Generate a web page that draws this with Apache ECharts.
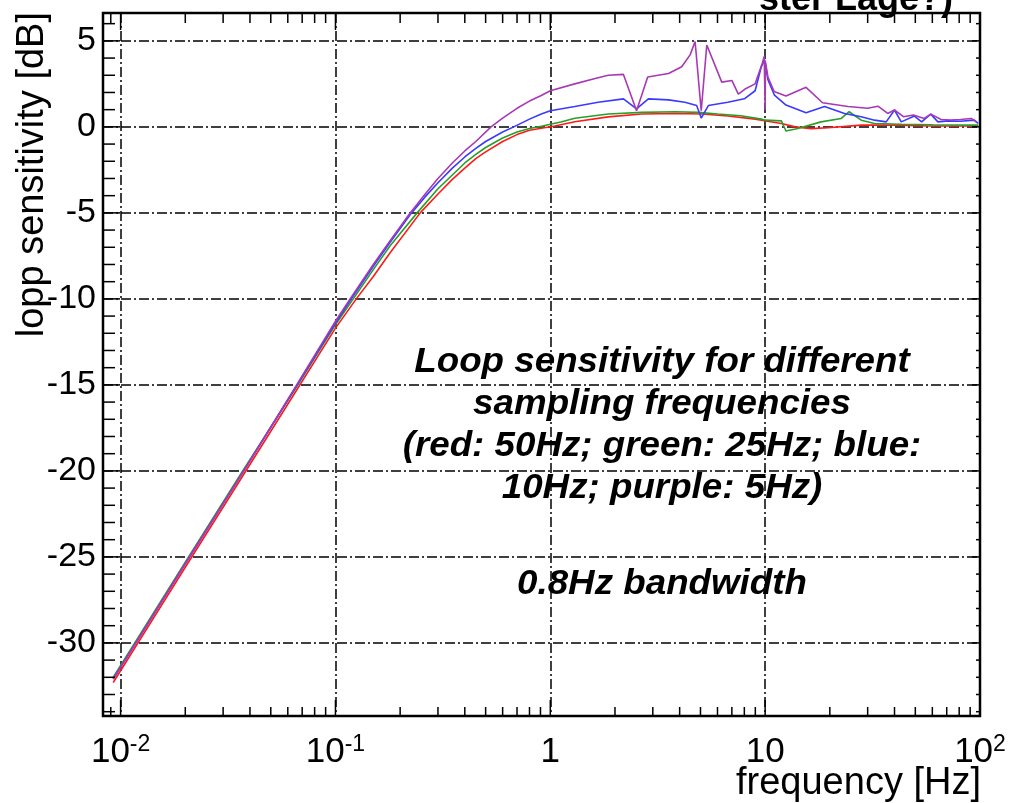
<!DOCTYPE html>
<html><head><meta charset="utf-8">
<script src="https://cdn.jsdelivr.net/npm/echarts@6/dist/echarts.min.js"></script>
<style>html,body{margin:0;padding:0;background:#fff}#c{width:1017px;height:803px}</style>
</head><body><div id="c"></div>
<script>
// ---- data (frequency [Hz], loop sensitivity [dB]) ----
const redData = [[0.00924,-32.3],[0.0115,-30.4],[0.02,-25.6],[0.037,-20.3],[0.066,-15.3],[0.1,-11.7],[0.125,-10.0],[0.15,-8.7],[0.18,-7.3],[0.248,-5.0],[0.3,-3.9],[0.35,-3.05],[0.4,-2.4],[0.45,-1.85],[0.5,-1.45],[0.6,-0.85],[0.7,-0.45],[0.8,-0.2],[0.908,-0.08],[1.05,0.05],[1.3,0.3],[1.86,0.58],[2.66,0.75],[3.8,0.78],[5.1,0.75],[6.7,0.63],[9,0.45],[10.6,0.3],[11.9,0.2],[13.8,0.0],[16.4,-0.1],[19.6,-0.05],[28,0.1],[40,0.1],[59,0.05],[98,0.05]];
const greenData = [[0.00924,-32.0],[0.0115,-30.1],[0.02,-25.3],[0.037,-20.0],[0.066,-15.1],[0.1,-11.5],[0.15,-8.3],[0.18,-6.9],[0.24,-5.0],[0.3,-3.6],[0.35,-2.8],[0.4,-2.1],[0.45,-1.6],[0.5,-1.2],[0.6,-0.65],[0.7,-0.3],[0.8,-0.1],[0.92,0.05],[1.0,0.15],[1.12,0.28],[1.3,0.5],[1.86,0.75],[2.66,0.84],[3.8,0.88],[4.9,0.84],[6.0,0.75],[7.7,0.65],[9.6,0.45],[10,0.39],[11.9,0.35],[12.5,-0.24],[14.2,-0.1],[18.2,0.29],[22.6,0.49],[24.6,0.88],[28,0.39],[32.3,0.2],[43,0.15],[60,0.12],[98,0.1]];
const blueData = [[0.00924,-32.1],[0.0115,-30.2],[0.02,-25.4],[0.037,-20.1],[0.066,-15.05],[0.1,-11.4],[0.117,-10.1],[0.15,-8.1],[0.18,-6.7],[0.226,-5.0],[0.26,-4.1],[0.3,-3.25],[0.35,-2.4],[0.4,-1.75],[0.45,-1.25],[0.5,-0.85],[0.6,-0.3],[0.676,0.0],[0.8,0.45],[0.908,0.75],[1.0,0.94],[1.3,1.18],[1.67,1.43],[2.19,1.63],[2.52,1.04],[2.86,1.63],[3.55,1.57],[4.23,1.43],[4.8,1.24],[5.04,0.51],[5.44,1.24],[6.7,1.43],[8.0,1.63],[8.98,2.1],[9.6,3.5],[9.95,3.9],[10.3,2.74],[11.05,1.84],[12.5,1.27],[15.5,0.82],[18.9,1.18],[23.4,0.78],[28,0.59],[32.3,0.39],[36.6,0.29],[40,0.98],[43,0.29],[49.5,0.63],[53.5,0.29],[59,0.74],[63.7,0.29],[70.8,0.35],[81,0.33],[94,0.39],[98,0.2]];
const purpleData = [[0.00924,-32.1],[0.0115,-30.2],[0.02,-25.4],[0.037,-20.1],[0.066,-15.0],[0.1,-11.3],[0.117,-10.0],[0.15,-8.0],[0.18,-6.6],[0.22,-5.1],[0.26,-3.95],[0.3,-3.0],[0.35,-2.1],[0.4,-1.4],[0.45,-0.85],[0.53,0.0],[0.6,0.51],[0.7,1.08],[0.8,1.5],[0.908,1.82],[1.0,2.1],[1.3,2.5],[1.6,2.8],[1.86,3.0],[2.19,3.05],[2.52,0.94],[2.84,2.9],[3.55,3.1],[4.09,3.5],[4.48,4.2],[4.72,4.96],[5.04,0.94],[5.35,4.76],[6.28,2.6],[7.0,2.7],[7.5,1.9],[8.06,2.2],[8.98,2.5],[9.7,3.7],[9.9,4.1],[9.97,4.2],[10.0,1.0],[10.03,3.8],[10.3,2.9],[11.0,2.06],[12.5,1.8],[15.5,2.3],[18.5,1.4],[24.3,1.18],[30,1.08],[33.5,1.2],[37.2,0.78],[40,0.98],[44,0.59],[49,0.69],[55,0.49],[59,0.74],[66,0.43],[73,0.4],[81,0.43],[91,0.49],[96,0.3]];

// ---- axes ----
const X_MIN = 0.00828, X_MAX = 100;
const Y_MIN = -34.25, Y_MAX = 6.62;
const xLabelPos = [0.01, 0.1, 1, 10, 100];
const xLabelBase = ['10', '10', '1', '10', '10'];
const xLabelExp = ['-2', '-1', '', '', '2'];
const xMajorTicks = [0.01, 0.1, 1, 10, 100];
const xMinorTicks = [0.009, 0.02, 0.03, 0.04, 0.05, 0.06, 0.07, 0.08, 0.09, 0.2, 0.3, 0.4, 0.5, 0.6, 0.7, 0.8, 0.9, 2, 3, 4, 5, 6, 7, 8, 9, 20, 30, 40, 50, 60, 70, 80, 90];
const yMajorTicks = [-30, -25, -20, -15, -10, -5, 0, 5];
const yMinorTicks = [-34, -33, -32, -31, -29, -28, -27, -26, -24, -23, -22, -21, -19, -18, -17, -16, -14, -13, -12, -11, -9, -8, -7, -6, -4, -3, -2, -1, 1, 2, 3, 4, 6];
const annotationLines = ['Loop sensitivity for different', 'sampling frequencies', '(red: 50Hz; green: 25Hz; blue:', '10Hz; purple: 5Hz)', '0.8Hz bandwidth'];
const annotationY = [362, 404, 446, 488, 584];

const FONT = 'Liberation Sans, Arial, Helvetica, sans-serif';

function fmtX(v) {
  const e = Math.log10(v);
  for (let i = 0; i < xLabelPos.length; i++) {
    if (Math.abs(e - Math.log10(xLabelPos[i])) < 1e-6) {
      return xLabelExp[i] ? '{b|' + xLabelBase[i] + '}{s|' + xLabelExp[i] + '}' : '{b|' + xLabelBase[i] + '}';
    }
  }
  return '';
}
function fmtY(v) {
  const r = Math.round(v);
  if (Math.abs(v - r) > 1e-6 || r % 5 !== 0) return '';
  return String(r);
}

const TW = 1.5;
function xTickItem(params, api) {
  const cs = params.coordSys;
  const x = api.coord([api.value(0), api.value(1)])[0];
  const major = api.value(2) === 1;
  const yb = cs.y + cs.height, yt = cs.y;
  const lb = major ? 16 : 9, lt = major ? 17 : 10;
  return {type: 'group', children: [
    {type: 'line', shape: {x1: x, y1: yb, x2: x, y2: yb - lb}, style: {stroke: '#000', lineWidth: TW}},
    {type: 'line', shape: {x1: x, y1: yt, x2: x, y2: yt + lt}, style: {stroke: '#000', lineWidth: TW}}
  ]};
}
function yTickItem(params, api) {
  const cs = params.coordSys;
  const y = api.coord([api.value(0), api.value(1)])[1];
  const major = api.value(2) === 1;
  const xl = cs.x, xr = cs.x + cs.width;
  const ll = major ? 17 : 12, lr = major ? 8 : 4;
  return {type: 'group', children: [
    {type: 'line', shape: {x1: xl, y1: y, x2: xl + ll, y2: y}, style: {stroke: '#000', lineWidth: TW}},
    {type: 'line', shape: {x1: xr, y1: y, x2: xr - lr, y2: y}, style: {stroke: '#000', lineWidth: TW}}
  ]};
}

const gridLine = {show: true, lineStyle: {color: '#000', width: 1.5, type: [10, 3, 2, 3]}};

function lineSeries(name, data, color) {
  return {name, type: 'line', data, showSymbol: false, symbol: 'none', silent: true,
    lineStyle: {color, width: 1.6}, z: 3};
}

const chart = echarts.init(document.getElementById('c'), null, {renderer: 'canvas'});
chart.setOption({
  animation: false,
  backgroundColor: '#fff',
  grid: {left: 103, right: 37, top: 13, bottom: 87, show: true, borderColor: '#000', borderWidth: 2.5, backgroundColor: 'transparent'},
  xAxis: {
    type: 'log', logBase: 10, min: X_MIN, max: X_MAX,
    axisLine: {show: false}, axisTick: {show: false},
    axisLabel: {
      margin: 17, formatter: fmtX, color: '#000',
      rich: {
        b: {fontSize: 35, fontFamily: FONT, color: '#000', lineHeight: 38},
        s: {fontSize: 23, fontFamily: FONT, color: '#000', lineHeight: 28, verticalAlign: 'top'}
      }
    },
    splitLine: gridLine
  },
  yAxis: {
    type: 'value', min: Y_MIN, max: Y_MAX, minInterval: 5, maxInterval: 5,
    axisLine: {show: false}, axisTick: {show: false},
    axisLabel: {margin: 7, formatter: fmtY, color: '#000', fontSize: 34, fontFamily: FONT},
    splitLine: gridLine
  },
  series: [
    lineSeries('red: 50Hz', redData, '#ff1a1a'),
    lineSeries('green: 25Hz', greenData, '#28a028'),
    lineSeries('blue: 10Hz', blueData, '#3a3aff'),
    lineSeries('purple: 5Hz', purpleData, '#a838b4'),
    {type: 'custom', renderItem: xTickItem, silent: true, z: 4, encode: {x: 0, y: 1},
      data: xMajorTicks.map(v => [v, Y_MIN, 1]).concat(xMinorTicks.map(v => [v, Y_MIN, 0]))},
    {type: 'custom', renderItem: yTickItem, silent: true, z: 4, encode: {x: 0, y: 1},
      data: yMajorTicks.map(v => [X_MIN, v, 1]).concat(yMinorTicks.map(v => [X_MIN, v, 0]))}
  ],
  graphic: [
    {type: 'text', x: 33, y: 12, rotation: Math.PI / 2, silent: true,
      style: {text: 'lopp sensitivity [dB]', fontSize: 38, fontFamily: FONT, fill: '#000', align: 'right', verticalAlign: 'middle'}},
    {type: 'text', x: 981, y: 803, silent: true,
      style: {text: 'frequency [Hz]', fontSize: 38, fontFamily: FONT, fill: '#000', align: 'right', verticalAlign: 'bottom'}},
    {type: 'text', x: 953, y: 18, silent: true,
      style: {text: 'ster Lage?)', fontSize: 36, fontWeight: 'bold', fontFamily: FONT, fill: '#000', align: 'right', verticalAlign: 'bottom'}}
  ].concat(annotationLines.map((t, i) => ({
    type: 'text', x: 662, y: annotationY[i], scaleX: 1.05, silent: true,
    style: {text: t, fontSize: 35, fontWeight: 'bold', fontStyle: 'italic', fontFamily: FONT, fill: '#000', align: 'center', verticalAlign: 'middle'}
  })))
});
</script>
</body></html>
